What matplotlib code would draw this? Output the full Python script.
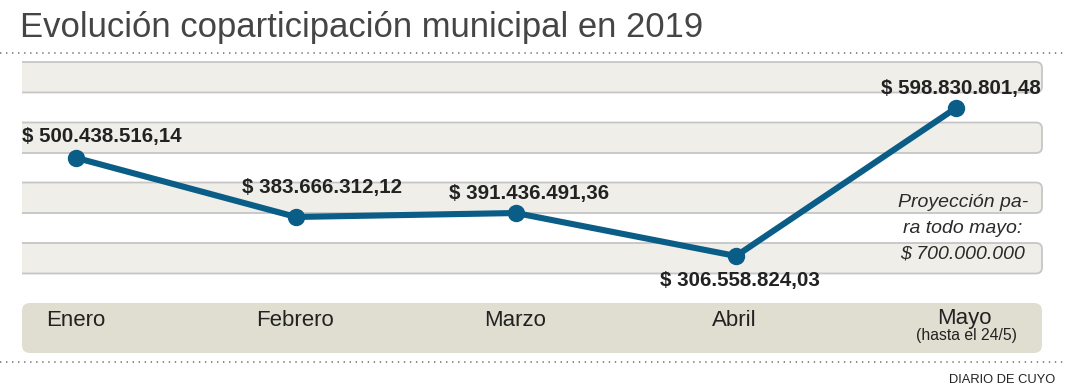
import matplotlib
matplotlib.use("Agg")
import matplotlib.pyplot as plt
from matplotlib.patches import FancyBboxPatch, Rectangle
from matplotlib.transforms import blended_transform_factory

plt.rcParams['font.family'] = ['Liberation Sans', 'DejaVu Sans']

# data (millions of pesos)
months = ["Enero", "Febrero", "Marzo", "Abril", "Mayo"]
values = [500.43851614, 383.66631212, 391.43649136, 306.55882403, 598.83080148]
value_labels = ["$ 500.438.516,14", "$ 383.666.312,12", "$ 391.436.491,36",
                "$ 306.558.824,03", "$ 598.830.801,48"]
may_note = "(hasta el 24/5)"
projection = ["Proyección pa-", "ra todo mayo:", "$ 700.000.000"]

W, H = 1065, 390
fig = plt.figure(figsize=(W / 100, H / 100), dpi=100)

# background layer in pixel coords
bg = fig.add_axes([0, 0, 1, 1])
bg.set_xlim(0, W)
bg.set_ylim(H, 0)
bg.axis("off")

bg.text(20, 37, "Evolución coparticipación municipal en 2019", fontsize=24.9,
        color="#454545", va="baseline", ha="left")
for yy in (53, 362):
    bg.plot([0, W], [yy, yy], color="#8a8a8a", lw=1.4, linestyle=(0, (0.7, 2.4)))

clip = Rectangle((22, 0), W, H, transform=bg.transData)
for top in (62, 122.5, 182.5, 243):
    band = FancyBboxPatch((0, top), 1042, 30.5,
                          boxstyle="round,pad=0,rounding_size=6",
                          fc="#efeee8", ec="#c6c6c6", lw=1.3)
    bg.add_patch(band)
    band.set_clip_path(clip)

bg.add_patch(FancyBboxPatch((22, 303), 1020, 50,
                            boxstyle="round,pad=0,rounding_size=8",
                            fc="#e0ded0", ec="none"))

bg.text(1055, 383, "DIARIO DE CUYO", fontsize=9.3, color="#222222",
        ha="right", va="baseline")

# data layer
ax = fig.add_axes([22 / W, 1 - 273 / H, 1020 / W, 211 / H])
ax.patch.set_alpha(0)
ax.axis("off")
x0, px_x = 76, 220.0
px_y = 0.5064
ax.set_xlim((22 - x0) / px_x, (1042 - x0) / px_x)
ax.set_ylim(values[4] - (273 - 108) / px_y, values[4] + (108 - 62) / px_y)

x = list(range(len(months)))
ax.plot(x, values, color="#0a5d86", lw=4.4, marker="o", markersize=11.5,
        solid_capstyle="round", solid_joinstyle="round", clip_on=False)

offsets = [(-54, 16, "left"), (26, 24, "center"), (13, 14, "center"),
           (4, -30, "center"), (5, 14, "center")]
for xi, v, lab, (dx, dy, ha) in zip(x, values, value_labels, offsets):
    ax.annotate(lab, (xi, v), xytext=(dx, dy), textcoords="offset pixels",
                ha=ha, va="baseline", fontsize=14.8, fontweight="bold",
                color="#222222", annotation_clip=False)

tr = blended_transform_factory(ax.transData, bg.transData)
month_dx = [0, -1, -1, -2, 8]
for xi, m, dx in zip(x, months, month_dx):
    ax.annotate(m, (xi, 326 if m != "Mayo" else 324), xycoords=tr,
                xytext=(dx, 0), textcoords="offset pixels", ha="center",
                va="baseline", fontsize=16, color="#222222")
ax.annotate(may_note, (x[-1], 340), xycoords=tr, xytext=(10, 0),
            textcoords="offset pixels", ha="center", va="baseline",
            fontsize=11.3, color="#222222")

for i, line in enumerate(projection):
    ax.annotate(line, (x[-1], 207 + 26 * i), xycoords=tr, xytext=(7, 0),
                textcoords="offset pixels", ha="center", va="baseline",
                fontsize=14, style="italic", color="#2a2a2a")

plt.savefig("out.png", dpi=100)
plt.close()
